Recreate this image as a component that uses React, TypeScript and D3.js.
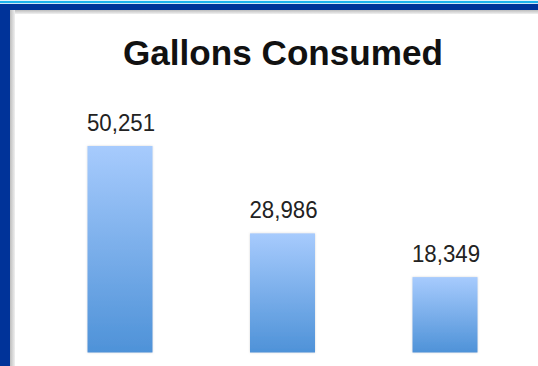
import React from "react";
import * as d3 from "d3";

const categories = ["A", "B", "C"];
const values = [50251, 28986, 18349];
const title = "Gallons Consumed";

const W = 538;
const H = 366;

export default function App() {
  const x = d3
    .scaleBand<string>()
    .domain(categories)
    .range([38.75, 526.25])
    .paddingInner(0.6)
    .paddingOuter(0.3);
  const y = d3.scaleLinear().domain([0, 50251]).range([352.5, 146]);
  const fmt = d3.format(",");

  return (
    <svg
      width={W}
      height={H}
      style={{ position: "absolute", left: 0, top: 0, display: "block" }}
    >
      <defs>
        <linearGradient id="barGrad" x1="0" y1="0" x2="0" y2="1">
          <stop offset="0%" stopColor="#a7cbfd" />
          <stop offset="100%" stopColor="#4e92d8" />
        </linearGradient>
        <linearGradient id="shadeL" x1="0" y1="0" x2="1" y2="0">
          <stop offset="0%" stopColor="#bdbdbd" />
          <stop offset="100%" stopColor="#f0f0f0" />
        </linearGradient>
        <linearGradient id="shadeT" x1="0" y1="0" x2="0" y2="1">
          <stop offset="0%" stopColor="#bdbdbd" />
          <stop offset="100%" stopColor="#f0f0f0" />
        </linearGradient>
        <filter id="glow" x="-20%" y="-20%" width="140%" height="140%">
          <feDropShadow dx="0" dy="0" stdDeviation="1.2" floodColor="#888" floodOpacity="0.35" />
        </filter>
      </defs>
      <rect x={0} y={0} width={W} height={H} fill="#ffffff" />
      {/* frame */}
      <rect x={0} y={0} width={W} height={1} fill="#e4f4fc" />
      <rect x={0} y={1} width={W} height={2} fill="#1fb2ec" />
      <rect x={0} y={3} width={W} height={1} fill="#cfe6f6" />
      <rect x={0} y={4} width={W} height={6} fill="#003399" />
      <rect x={0} y={4} width={10} height={H - 4} fill="#003399" />
      <rect x={10} y={10} width={W - 10} height={4} fill="url(#shadeT)" />
      <rect x={10} y={10} width={5} height={H - 10} fill="url(#shadeL)" />

      <text
        x={283}
        y={65}
        textAnchor="middle"
        fontFamily="Liberation Sans, Arial, sans-serif"
        fontWeight="bold"
        fontSize={35}
        fill="#111"
        textLength={320}
        lengthAdjust="spacingAndGlyphs"
      >
        {title}
      </text>

      {categories.map((c, i) => {
        const bx = x(c)!;
        const bw = x.bandwidth();
        const top = y(values[i]);
        return (
          <g key={c}>
            <rect
              x={bx}
              y={top}
              width={bw}
              height={y(0) - top}
              fill="url(#barGrad)"
              filter="url(#glow)"
            />
            <text
              x={bx + bw / 2 + 1}
              y={top - 15}
              textAnchor="middle"
              fontFamily="Liberation Sans, Arial, sans-serif"
              fontSize={24}
              fill="#222"
              textLength={68}
              lengthAdjust="spacingAndGlyphs"
            >
              {fmt(values[i])}
            </text>
          </g>
        );
      })}
    </svg>
  );
}
